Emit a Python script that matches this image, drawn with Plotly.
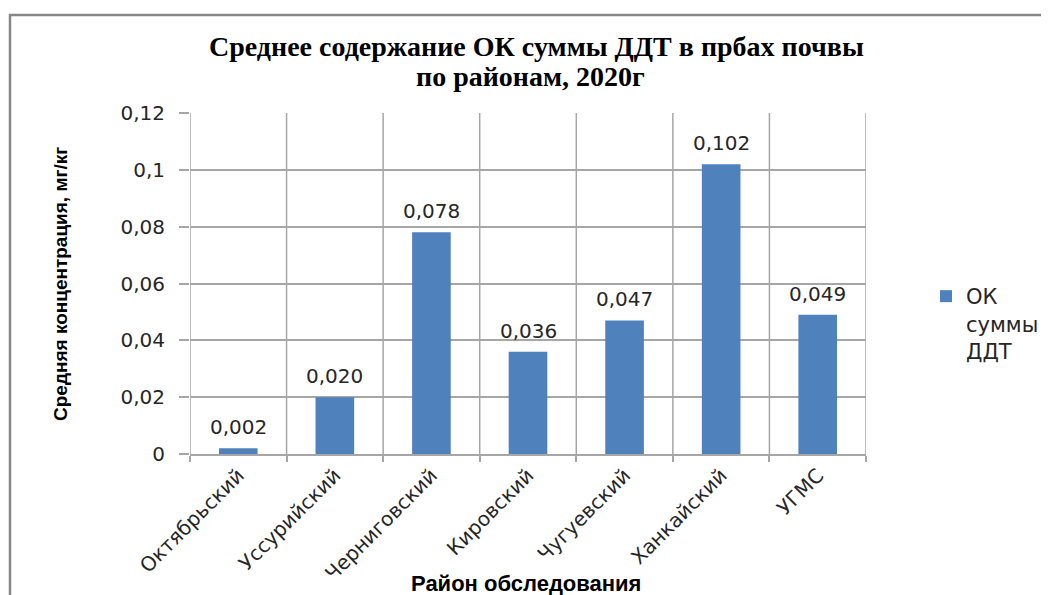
import plotly.graph_objects as go

categories = ["Октябрьский", "Уссурийский", "Черниговский", "Кировский", "Чугуевский", "Ханкайский", "УГМС"]
values = [0.002, 0.020, 0.078, 0.036, 0.047, 0.102, 0.049]
series_name = "ОК<br>суммы<br>ДДТ"
title_lines = ["Среднее содержание ОК суммы ДДТ в прбах почвы", "по районам, 2020г"]
y_title = "Средняя концентрация, мг/кг"
x_title = "Район обследования"
y_tickvals = [0, 0.02, 0.04, 0.06, 0.08, 0.1, 0.12]
y_ticktext = ["0", "0,02", "0,04", "0,06", "0,08", "0,1", "0,12"]

OFF = 8  # page body margin (page is drawn 8px right/down)
W, H = 1049 - OFF, 595 - OFF
# plot area in reference pixel coordinates
L, R, T, B = 190, 866, 113, 454

def px_x(p):
    return (p - L) / (R - L)

def px_y(p):
    return (B - p) / (B - T)

SANS = "DejaVu Sans, Liberation Sans, Arial"
GRID = "#A6A6A6"

fig = go.Figure()
fig.add_trace(go.Bar(
    x=categories, y=values, name=series_name,
    marker=dict(color="#4F81BD", line=dict(width=0)),
    showlegend=True,
))

label_annotations = [
    dict(x=c, y=v, xref="x", yref="y", text=f"{v:.3f}".replace(".", ","),
         showarrow=False, xanchor="center", yanchor="middle", yshift=21,
         font=dict(family=SANS, size=20, color="#262626"))
    for c, v in zip(categories, values)
]

fig.update_layout(
    width=W, height=H,
    margin=dict(l=L - OFF, r=W - (R - OFF), t=T - OFF, b=H - (B - OFF), autoexpand=False),
    paper_bgcolor="white", plot_bgcolor="white",
    bargap=0.6,
    showlegend=True,
    legend=dict(xref="container", yref="container",
                x=(926 - OFF) / W, y=1 - (276 - OFF) / H, xanchor="left", yanchor="top",
                valign="top",
                font=dict(family=SANS, size=21, color="#262626"),
                tracegroupgap=0, itemwidth=30, bgcolor="rgba(0,0,0,0)"),
    font=dict(family=SANS, color="#262626"),
    xaxis=dict(
        type="category", tickangle=-45, automargin=False,
        tickfont=dict(family=SANS, size=20, color="#262626"),
        showgrid=False, showline=True, linecolor=GRID, linewidth=1.5,
        ticks="outside", ticklen=6, tickcolor=GRID, tickwidth=1.5, tickson="boundaries",
        range=[-0.5, 6.5], fixedrange=True,
    ),
    yaxis=dict(
        range=[0, 0.12], tickvals=y_tickvals, ticktext=y_ticktext, automargin=False,
        tickfont=dict(family=SANS, size=20, color="#262626"),
        showgrid=True, gridcolor=GRID, gridwidth=1.5,
        showline=False, zeroline=False,
        ticks="outside", ticklen=10, tickcolor=GRID, tickwidth=1.5,
        ticklabelstandoff=10, fixedrange=True,
    ),
    annotations=label_annotations + [
        dict(text=f"<b>{title_lines[0]}</b>", xref="paper", yref="paper",
             x=px_x(536), y=px_y(47), xanchor="center", yanchor="middle", showarrow=False,
             font=dict(family="Liberation Serif, Times New Roman", size=28, color="black")),
        dict(text=f"<b>{title_lines[1]}</b>", xref="paper", yref="paper",
             x=px_x(530), y=px_y(76), xanchor="center", yanchor="middle", showarrow=False,
             font=dict(family="Liberation Serif, Times New Roman", size=28, color="black")),
        dict(text=f"<b>{y_title}</b>", textangle=-90,
             xref="paper", yref="paper", x=px_x(60), y=px_y(284),
             xanchor="center", yanchor="middle", showarrow=False,
             font=dict(family="Liberation Sans, Arial", size=19, color="black")),
        dict(text=f"<b>{x_title}</b>",
             xref="paper", yref="paper", x=px_x(526), y=px_y(583),
             xanchor="center", yanchor="middle", showarrow=False,
             font=dict(family="Liberation Sans, Arial", size=22, color="black")),
    ],
    shapes=[
        *[dict(type="line", xref="x", yref="paper", x0=i - 0.5, x1=i - 0.5, y0=0, y1=1,
               line=dict(color=GRID, width=1.5), layer="below") for i in range(len(categories) + 1)],
        dict(type="rect", xref="paper", yref="paper",
             x0=px_x(10), x1=px_x(1043), y0=px_y(15), y1=px_y(650),
             line=dict(color="#878787", width=2.5), fillcolor="rgba(0,0,0,0)"),
    ],
)

fig.write_html("out.html")
